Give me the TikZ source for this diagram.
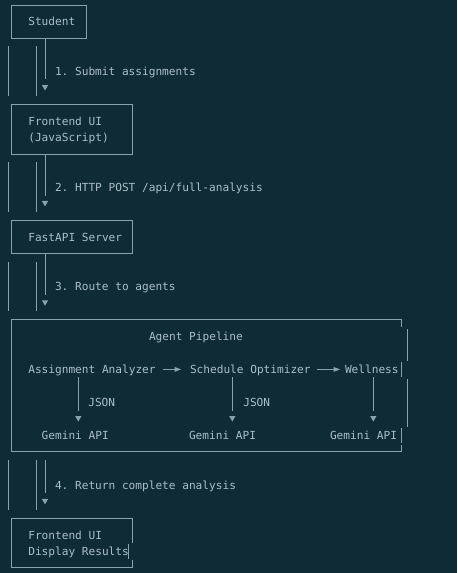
\documentclass[tikz,border=0pt]{standalone}
\usepackage{fontspec}
\setmonofont{DejaVu Sans Mono}
\definecolor{bg}{HTML}{0E2B36}
\definecolor{fg}{HTML}{ABBFC6}
\definecolor{ln}{HTML}{8AA3AB}
\newcommand\downtip[1]{\fill[ln] (#1) ++(-3.1,-2.6) -- ++(6.2,0) -- ++(-3.1,5.4) -- cycle;}
\newcommand\righttip[1]{\fill[ln] (#1) ++(-6.5,-2.5) -- ++(6.5,2.5) -- ++(-6.5,2.5) -- cycle;}
\begin{document}
\begin{tikzpicture}[x=0.75pt,y=-0.75pt,
  txt/.style={inner sep=0pt, outer sep=0pt, anchor=base west, text=fg,
    font=\ttfamily\fontsize{8.35}{10}\selectfont},
  wire/.style={draw=ln, line width=0.6pt},
  boxnode/.style={draw=ln, line width=0.6pt, inner sep=0pt, outer sep=0pt,
    anchor=north west}]
\fill[bg] (0,0) rectangle (457,573);
\useasboundingbox (0,0) rectangle (457,573);

% ---------- Student ----------
\node[boxnode, minimum width=56.25pt, minimum height=24.825pt] (student) at (11,5) {};
\node[txt] (tstudent) at (28.3,25.95) {Student};

% ---------- step 1 ----------
\coordinate (s1) at (45,79.5);
\coordinate (a1) at (45,87.75);
\draw[wire] (student.south -| s1) -- (s1);
\downtip{a1}
\draw[wire] (8,46.4) -- (8,96);
\draw[wire] (36,46.4) -- (36,96);
\node[txt] (l1) at (55,75.6) {1. Submit assignments};

% ---------- Frontend UI ----------
\node[boxnode, minimum width=90.75pt, minimum height=37.24pt] (frontend) at (11,104.3) {};
\node[txt] (tfront1) at (28.3,125.25) {Frontend UI};
\node[txt] (tfront2) at (28.3,141.8) {(JavaScript)};

% ---------- step 2 ----------
\coordinate (s2) at (45,195.9);
\coordinate (a2) at (45,203.6);
\draw[wire] (frontend.south -| s2) -- (s2);
\downtip{a2}
\draw[wire] (8,162.2) -- (8,211.9);
\draw[wire] (36,162.2) -- (36,211.9);
\node[txt] (l2) at (55,191.45) {2. HTTP POST /api/full-analysis};

% ---------- FastAPI ----------
\node[boxnode, minimum width=90.75pt, minimum height=24.825pt] (fastapi) at (11,220.15) {};
\node[txt] (tfast) at (28.3,241.1) {FastAPI Server};

% ---------- step 3 ----------
\coordinate (s3) at (45,294.6);
\coordinate (a3) at (45,302.9);
\draw[wire] (fastapi.south -| s3) -- (s3);
\downtip{a3}
\draw[wire] (8,261.5) -- (8,311.2);
\draw[wire] (36,261.5) -- (36,311.2);
\node[txt] (l3) at (55,290.75) {3. Route to agents};

% ---------- Agent Pipeline ----------
\draw[wire] (401,327) -- (401,319.45) -- (11,319.45) -- (11,451.85) -- (401,451.85) -- (401,444.5);
\draw[wire] (407,329) -- (407,360.5);
\draw[wire] (401,362) -- (401,377);
\draw[wire] (407,378.5) -- (407,426.5);
\draw[wire] (401,428) -- (401,443);
\node[txt] (tpipe) at (149,340.4) {Agent Pipeline};

\node[txt] (analyzer) at (28.3,373.5) {Assignment Analyzer};
\node[txt] (optimizer) at (190,373.5) {Schedule Optimizer};
\node[txt] (wellness) at (345,373.5) {Wellness};

\coordinate (h1s) at (163,369.4);
\coordinate (h1e) at (181,369.4);
\coordinate (h2s) at (317,369.4);
\coordinate (h2e) at (340,369.4);
\draw[wire] (h1s) -- ([xshift=-4.5pt]h1e);
\righttip{h1e}
\draw[wire] (h2s) -- ([xshift=-4.5pt]h2e);
\righttip{h2e}

\coordinate (v1) at (78.3,410.5);
\coordinate (v2) at (232.3,410.5);
\coordinate (v3) at (373.3,410.5);
\coordinate (b1) at (78.3,418.75);
\coordinate (b2) at (232.3,418.75);
\coordinate (b3) at (373.3,418.75);
\draw[wire] (78.3,377.4) -- (v1);
\draw[wire] (232.3,377.4) -- (v2);
\draw[wire] (373.3,377.4) -- (v3);
\downtip{b1}
\downtip{b2}
\downtip{b3}
\node[txt] (j1) at (88.3,406.6) {JSON};
\node[txt] (j2) at (243.3,406.6) {JSON};

\node[txt] (g1) at (41.7,439.7) {Gemini API};
\node[txt] (g2) at (189,439.7) {Gemini API};
\node[txt] (g3) at (330,439.7) {Gemini API};

% ---------- step 4 ----------
\coordinate (s4t) at (45,460.1);
\coordinate (s4) at (45,493.2);
\coordinate (a4) at (45,501.5);
\draw[wire] (s4t) -- (s4);
\downtip{a4}
\draw[wire] (8,460.1) -- (8,509.8);
\draw[wire] (36,460.1) -- (36,509.8);
\node[txt] (l4) at (55,489.35) {4. Return complete analysis};

% ---------- Frontend UI (results) ----------
\draw[wire] (132,542.5) -- (132,518.05) -- (11,518.05) -- (11,567.7) -- (132,567.7) -- (132,560);
\draw[wire] (128.8,544) -- (128.8,558.5);
\node[txt] (tres1) at (28.3,539) {Frontend UI};
\node[txt] (tres2) at (28.3,555.55) {Display Results};
\end{tikzpicture}
\end{document}
